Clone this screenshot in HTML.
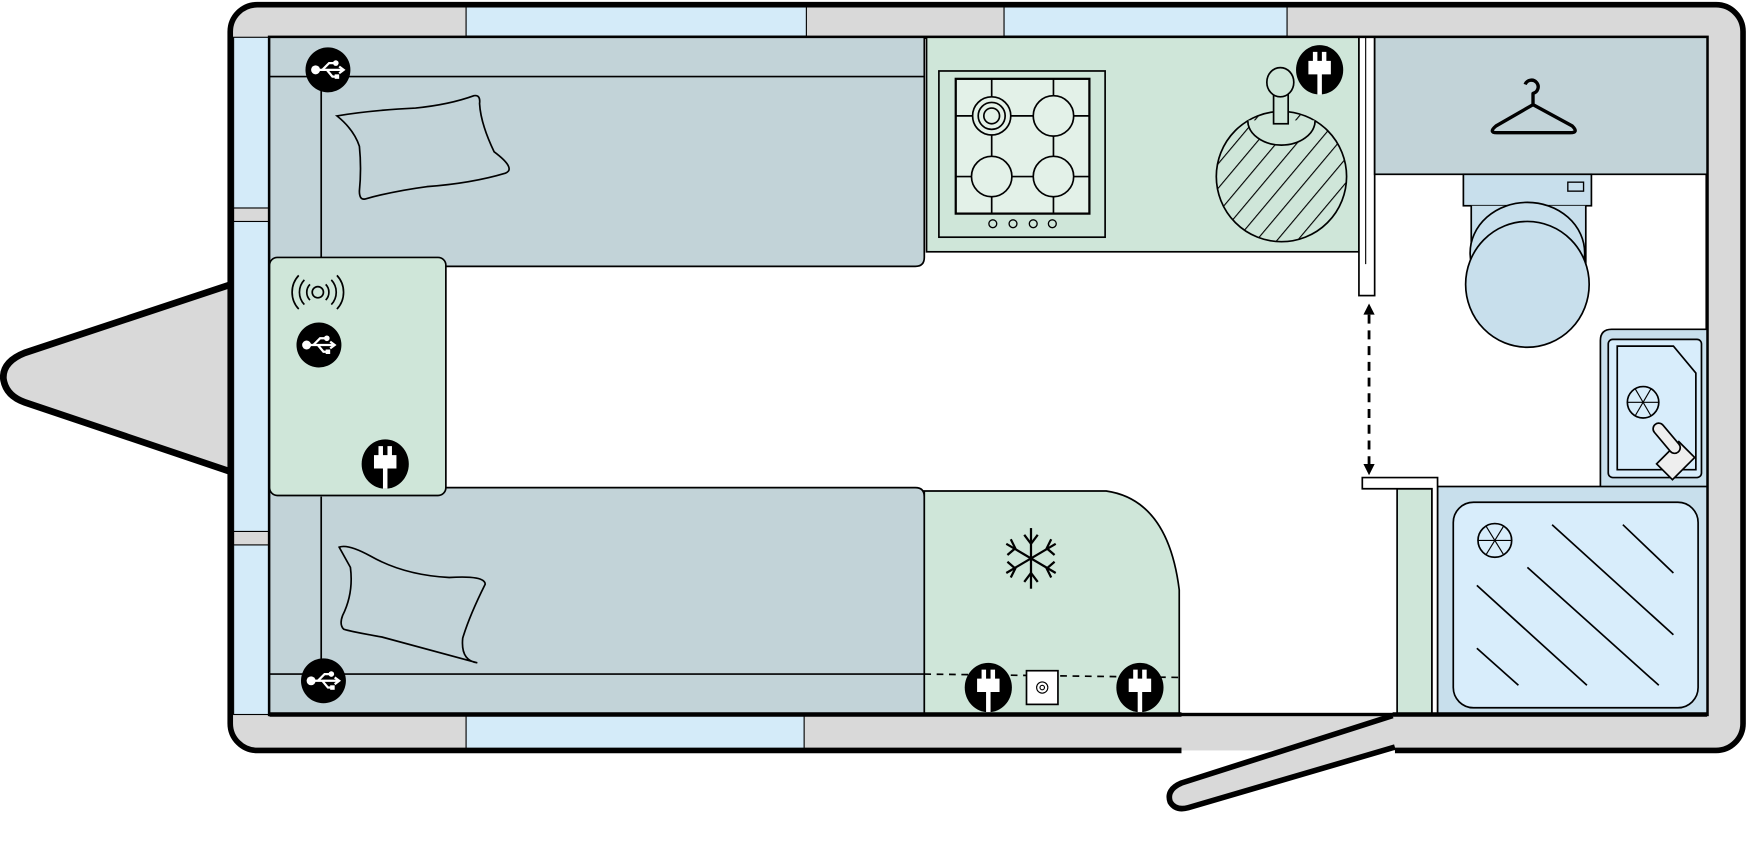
<!DOCTYPE html>
<html><head><meta charset="utf-8"><style>html,body{margin:0;padding:0;background:#fff}svg{display:block}</style></head>
<body>
<svg width="1761" height="845" viewBox="0 0 1568 752" xmlns="http://www.w3.org/2000/svg">
<defs>
<g id="usb"><circle r="20" fill="#000"/>
<g stroke="#fff" stroke-width="2" fill="none"><line x1="-10" y1="0" x2="13" y2="0"/><polyline points="-5,0 1,-6 6,-6"/><polyline points="-1,0 4,6 7,6"/><polyline points="10,-3 14,0 10,3"/></g>
<circle cx="-11" cy="0" r="4" fill="#fff"/><circle cx="7" cy="-6" r="2.5" fill="#fff"/><rect x="6" y="4" width="4" height="4" fill="#fff"/></g>
<g id="plug"><ellipse rx="21" ry="22" fill="#000"/>
<path d="M-10,-8 h4 v-8 h4 v8 h4 v-8 h4 v8 h4 v12 h-8 v18 h-4 v-18 h-8z" fill="#fff"/></g>
<pattern id="hatch" width="14" height="14" patternUnits="userSpaceOnUse" patternTransform="rotate(40)"><rect width="14" height="14" fill="#cfe6d9"/><line x1="0" y1="0" x2="0" y2="14" stroke="#000" stroke-width="2"/></pattern>
</defs>
<path d="M206,253 L22,314 Q2,322 3,337 Q5,352 22,358 L206,420 Z" fill="#d9d9d9" stroke="#000" stroke-width="6" stroke-linejoin="round"/>
<rect x="205" y="4" width="1347" height="664" rx="24" fill="#d9d9d9" stroke="#000" stroke-width="5"/>
<rect x="1052" y="637" width="190" height="35" fill="#d9d9d9"/>
<rect x="1052" y="668" width="190" height="8" fill="#fff"/>
<rect x="415" y="6" width="303" height="26" fill="#d4ebf9" stroke="#000" stroke-width="1"/>
<rect x="894" y="6" width="252" height="26" fill="#d4ebf9" stroke="#000" stroke-width="1"/>
<rect x="415" y="637" width="301" height="29" fill="#d4ebf9" stroke="#000" stroke-width="1"/>
<rect x="208" y="33" width="32" height="603" fill="#d4ebf9" stroke="#000" stroke-width="1"/>
<rect x="208" y="185" width="32" height="12" fill="#d9d9d9" stroke="#000" stroke-width="1"/>
<rect x="208" y="473" width="32" height="12" fill="#d9d9d9" stroke="#000" stroke-width="1"/>
<rect x="240" y="33" width="1280" height="603" fill="#fff" stroke="#000" stroke-width="3"/>
<path d="M240,33 H823 V229 Q823,237 815,237 H240 Z" fill="#c2d3d8" stroke="#000" stroke-width="1.5"/>
<line x1="240" y1="68" x2="823" y2="68" stroke="#000" stroke-width="1.5"/>
<line x1="286" y1="68" x2="286" y2="229" stroke="#000" stroke-width="1.5"/>
<path d="M300,103 Q330,98 370,96 Q400,93 422,85 Q428,84 427,92 Q428,110 440,135 Q460,150 450,154 Q420,163 380,166 Q350,170 325,177 Q320,178 320,170 Q322,150 320,130 Q315,115 300,103 Z" fill="none" stroke="#000" stroke-width="1.5"/>
<path d="M240,434 H815 Q823,434 823,442 V636 H240 Z" fill="#c2d3d8" stroke="#000" stroke-width="1.5"/>
<line x1="240" y1="600" x2="823" y2="600" stroke="#000" stroke-width="1.5"/>
<line x1="286" y1="442" x2="286" y2="600" stroke="#000" stroke-width="1.5"/>
<path d="M302,487 Q310,484 330,495 Q360,512 400,514 Q432,512 432,520 Q418,548 412,568 Q410,588 425,590 Q380,578 340,567 Q312,562 306,560 Q302,556 305,548 Q315,528 312,505 Z" fill="none" stroke="#000" stroke-width="1.5"/>
<rect x="240" y="229" width="157" height="212" rx="7" fill="#cfe6d9" stroke="#000" stroke-width="1.5"/>
<g fill="none" stroke="#000" stroke-width="1.5"><circle cx="283" cy="260" r="5"/>
<path d="M276,253 a10,10 0 0 0 0,14 M290,253 a10,10 0 0 1 0,14 M271,249 a16,16 0 0 0 0,22 M295,249 a16,16 0 0 1 0,22 M266,245 a22,22 0 0 0 0,30 M300,245 a22,22 0 0 1 0,30"/></g>
<use href="#usb" x="292" y="62"/>
<use href="#usb" x="284" y="307"/>
<use href="#usb" x="288" y="606"/>
<use href="#plug" x="343" y="413"/>
<rect x="825" y="33" width="385" height="191" fill="#cfe6d9" stroke="#000" stroke-width="1.5"/>
<rect x="836" y="63" width="148" height="148" fill="#cfe6d9" stroke="#000" stroke-width="1.5"/>
<rect x="851" y="70" width="119" height="120" fill="#e3f1e8" stroke="#000" stroke-width="2"/>
<g stroke="#000" stroke-width="1.5" fill="none">
<line x1="851" y1="103" x2="970" y2="103"/><line x1="851" y1="157" x2="970" y2="157"/>
<line x1="883" y1="70" x2="883" y2="190"/><line x1="938" y1="70" x2="938" y2="190"/></g>
<g stroke="#000" stroke-width="1.5" fill="#e3f1e8">
<circle cx="883" cy="103" r="17"/><circle cx="938" cy="103" r="18"/><circle cx="883" cy="157" r="18"/><circle cx="938" cy="157" r="18"/></g>
<circle cx="883" cy="103" r="12" fill="none" stroke="#000" stroke-width="1.5"/><circle cx="883" cy="103" r="7" fill="none" stroke="#000" stroke-width="1.5"/>
<g fill="none" stroke="#000" stroke-width="1.2"><circle cx="884" cy="199" r="3.5"/><circle cx="902" cy="199" r="3.5"/><circle cx="920" cy="199" r="3.5"/><circle cx="937" cy="199" r="3.5"/></g>
<circle cx="1141" cy="157" r="58" fill="url(#hatch)" stroke="#000" stroke-width="1.5"/>
<path d="M1111,107 a30,22 0 0 0 60,0" fill="#cfe6d9" stroke="#000" stroke-width="1.5"/>
<rect x="1134" y="80" width="13" height="30" fill="#cfe6d9" stroke="#000" stroke-width="1.5"/>
<ellipse cx="1140" cy="73" rx="12" ry="13" fill="#cfe6d9" stroke="#000" stroke-width="1.5"/>
<use href="#plug" x="1175" y="62"/>
<rect x="1210" y="33" width="14" height="230" fill="#fff" stroke="#000" stroke-width="1.5"/>
<line x1="1216" y1="33" x2="1216" y2="235" stroke="#000" stroke-width="1"/>
<rect x="1224" y="33" width="296" height="122" fill="#c2d3d8" stroke="#000" stroke-width="1.5"/>
<path d="M1358,75 a6,6 0 1 1 7,8 v10 L1400,112 Q1406,118 1398,118 H1333 Q1325,118 1332,112 L1365,93" fill="none" stroke="#000" stroke-width="3" stroke-linejoin="round"/>
<rect x="1303" y="155" width="114" height="28" fill="#c8dfec" stroke="#000" stroke-width="1.5"/>
<rect x="1396" y="162" width="14" height="8" fill="#c8dfec" stroke="#000" stroke-width="1.2"/>
<path d="M1310,183 V235 H1412 V183" fill="#c8dfec" stroke="#000" stroke-width="1.5"/>
<ellipse cx="1360" cy="225" rx="51" ry="45" fill="#c8dfec" stroke="#000" stroke-width="1.5"/>
<ellipse cx="1360" cy="253" rx="55" ry="56" fill="#c8dfec" stroke="#000" stroke-width="1.5"/>
<path d="M1425,433 V303 Q1425,293 1435,293 H1520 V433" fill="#c8dfec" stroke="#000" stroke-width="1.5"/>
<rect x="1432" y="302" width="83" height="123" rx="4" fill="#d8edfb" stroke="#000" stroke-width="1.5"/>
<path d="M1440,308 H1490 L1510,332 V418 H1440 Z" fill="none" stroke="#000" stroke-width="1.5"/>
<circle cx="1463" cy="358" r="14" fill="none" stroke="#000" stroke-width="1.5"/>
<g stroke="#000" stroke-width="1"><line x1="1449" y1="358" x2="1477" y2="358"/><line x1="1456" y1="346" x2="1470" y2="370"/><line x1="1470" y1="346" x2="1456" y2="370"/></g>
<rect x="1482" y="396" width="20" height="28" transform="rotate(45 1492 410)" fill="#eee" stroke="#000" stroke-width="1.5"/>
<rect x="1479" y="374" width="10" height="32" rx="5" transform="rotate(-40 1484 390)" fill="#eee" stroke="#000" stroke-width="1.5"/>
<rect x="1280" y="433" width="240" height="203" fill="#c8dfec" stroke="#000" stroke-width="1.5"/>
<rect x="1294" y="447" width="218" height="183" rx="18" fill="#d8edfb" stroke="#000" stroke-width="1.5"/>
<g stroke="#000" stroke-width="1.5"><line x1="1445" y1="467" x2="1490" y2="510"/><line x1="1382" y1="467" x2="1490" y2="565"/><line x1="1360" y1="505" x2="1477" y2="610"/><line x1="1315" y1="521" x2="1413" y2="610"/><line x1="1315" y1="577" x2="1352" y2="610"/></g>
<circle cx="1331" cy="481" r="15" fill="#d8edfb" stroke="#000" stroke-width="1.5"/>
<g stroke="#000" stroke-width="1"><line x1="1316" y1="481" x2="1346" y2="481"/><line x1="1323" y1="468" x2="1339" y2="494"/><line x1="1339" y1="468" x2="1323" y2="494"/></g>
<rect x="1244" y="435" width="31" height="201" fill="#cfe6d9" stroke="#000" stroke-width="1.5"/>
<path d="M1213,425 H1280 V636 H1275 V435 H1213 Z" fill="#fff" stroke="#000" stroke-width="1.5"/>
<line x1="1219" y1="280" x2="1219" y2="413" stroke="#000" stroke-width="2.5" stroke-dasharray="8,6"/>
<path d="M1214,280 L1219,270 L1224,280 Z M1214,413 L1219,423 L1224,413 Z" fill="#000"/>
<path d="M823,437 H985 Q1040,445 1050,525 V636 H823 Z" fill="#cfe6d9" stroke="#000" stroke-width="1.5"/>
<line x1="823" y1="600" x2="1050" y2="603" stroke="#000" stroke-width="1.5" stroke-dasharray="6,5"/>
<g stroke="#000" stroke-width="2" fill="none"><line x1="918" y1="470" x2="918" y2="524"/><line x1="896" y1="484" x2="940" y2="510"/><line x1="896" y1="510" x2="940" y2="484"/>
<polyline points="912,476 918,484 924,476"/><polyline points="912,518 918,510 924,518"/>
<polyline points="900,480 904,488 897,494"/><polyline points="936,480 932,488 939,494"/><polyline points="900,514 904,506 897,500"/><polyline points="936,514 932,506 939,500"/></g>
<rect x="914" y="597" width="28" height="30" fill="#fff" stroke="#000" stroke-width="1.5"/>
<circle cx="928" cy="612" r="5" fill="none" stroke="#000" stroke-width="1"/><circle cx="928" cy="612" r="2" fill="none" stroke="#000" stroke-width="1"/>
<use href="#plug" x="880" y="612"/>
<use href="#plug" x="1015" y="612"/>
<line x1="240" y1="636" x2="1052" y2="636" stroke="#000" stroke-width="4"/>
<line x1="1240" y1="636" x2="1520" y2="636" stroke="#000" stroke-width="4"/>
<path d="M1240,637 L1052,697 Q1038,703 1042,714 Q1047,722 1058,719 L1242,665" fill="#d9d9d9" stroke="#000" stroke-width="5" stroke-linejoin="round"/>
<rect x="1244" y="640" width="8" height="24" fill="#d9d9d9"/>
</svg>
</body></html>
